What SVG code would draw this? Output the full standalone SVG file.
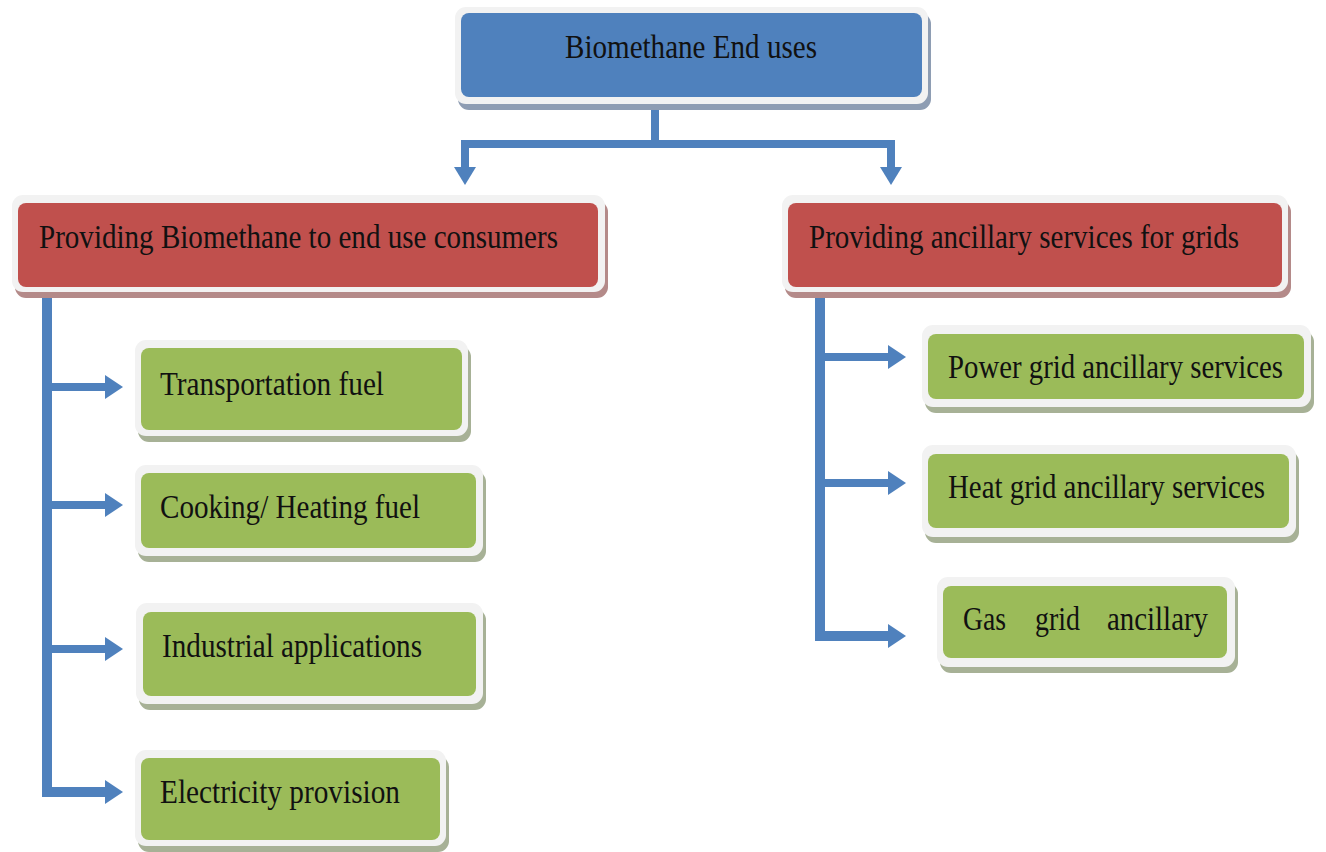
<svg xmlns="http://www.w3.org/2000/svg" width="1326" height="852" viewBox="0 0 1326 852">
  <defs>
    <style>
      .frame { fill: #F2F2F2; }
      .sh-blue { fill: #8E9DB3; }
      .sh-red { fill: #B48A89; }
      .sh-green { fill: #A7B196; }
      .blue { fill: #4F81BD; }
      .red { fill: #C0504D; }
      .green { fill: #9BBB59; }
      .lbl { font-family: "Liberation Serif", "Times New Roman", serif; font-size: 34px; fill: #111111; }
      .wire { fill: none; stroke: #4F81BD; stroke-width: 8; stroke-linejoin: miter; }
      .trunk { fill: none; stroke: #4F81BD; stroke-width: 10; stroke-linejoin: miter; }
    </style>
    <marker id="headR" markerUnits="userSpaceOnUse" markerWidth="18" markerHeight="24" refX="0" refY="12" orient="auto" overflow="visible">
      <path d="M0,0 L18,12 L0,24 Z" fill="#4F81BD"/>
    </marker>
    <marker id="headS" markerUnits="userSpaceOnUse" markerWidth="18" markerHeight="22" refX="0" refY="11" orient="auto" overflow="visible">
      <path d="M0,0 L18,11 L0,22 Z" fill="#4F81BD"/>
    </marker>
  </defs>

  <rect width="1326" height="852" fill="#FFFFFF"/>

  <!-- connectors -->
  <g id="connectors">
    <path class="wire" d="M655,104 V144"/>
    <path class="wire" d="M461,144 H895"/>
    <path class="wire" d="M465,141 V167" marker-end="url(#headS)"/>
    <path class="wire" d="M891,141 V167" marker-end="url(#headS)"/>

    <path class="trunk" d="M47,298 V792 H105" marker-end="url(#headR)"/>
    <path class="wire" d="M47,387 H105" marker-end="url(#headR)"/>
    <path class="wire" d="M47,505 H105" marker-end="url(#headR)"/>
    <path class="wire" d="M47,649 H105" marker-end="url(#headR)"/>

    <path class="trunk" d="M820,298 V636 H888" marker-end="url(#headR)"/>
    <path class="wire" d="M820,357 H888" marker-end="url(#headR)"/>
    <path class="wire" d="M820,483 H888" marker-end="url(#headR)"/>
  </g>

  <!-- root -->
  <g id="node-root">
    <rect class="sh-blue" x="458" y="13" width="473" height="97" rx="11"/>
    <rect class="frame" x="455" y="7" width="473" height="97" rx="11"/>
    <rect class="blue" x="461" y="13" width="461" height="84" rx="8"/>
    <text class="lbl" x="565" y="58" textLength="252" lengthAdjust="spacingAndGlyphs">Biomethane End uses</text>
  </g>

  <!-- second level -->
  <g id="node-consumers">
    <rect class="sh-red" x="15" y="201" width="593" height="97" rx="11"/>
    <rect class="frame" x="12" y="195" width="593" height="97" rx="11"/>
    <rect class="red" x="18" y="203" width="580" height="84" rx="8"/>
    <text class="lbl" x="39" y="248" textLength="519" lengthAdjust="spacingAndGlyphs">Providing Biomethane to end use consumers</text>
  </g>

  <g id="node-grids">
    <rect class="sh-red" x="785" y="201" width="506" height="97" rx="11"/>
    <rect class="frame" x="782" y="195" width="506" height="97" rx="11"/>
    <rect class="red" x="788" y="203" width="494" height="84" rx="8"/>
    <text class="lbl" x="809" y="248" textLength="430" lengthAdjust="spacingAndGlyphs">Providing ancillary services for grids</text>
  </g>

  <!-- end-use consumers -->
  <g id="node-transport">
    <rect class="sh-green" x="138" y="346" width="333" height="96" rx="11"/>
    <rect class="frame" x="135" y="340" width="333" height="96" rx="11"/>
    <rect class="green" x="141" y="348" width="321" height="82" rx="8"/>
    <text class="lbl" x="160" y="395" textLength="224" lengthAdjust="spacingAndGlyphs">Transportation fuel</text>
  </g>

  <g id="node-cooking">
    <rect class="sh-green" x="138" y="471" width="348" height="91" rx="11"/>
    <rect class="frame" x="135" y="465" width="348" height="91" rx="11"/>
    <rect class="green" x="141" y="473" width="335" height="75" rx="8"/>
    <text class="lbl" x="160" y="518" textLength="260" lengthAdjust="spacingAndGlyphs">Cooking/ Heating fuel</text>
  </g>

  <g id="node-industrial">
    <rect class="sh-green" x="139" y="609" width="347" height="101" rx="11"/>
    <rect class="frame" x="136" y="603" width="347" height="101" rx="11"/>
    <rect class="green" x="143" y="612" width="333" height="84" rx="8"/>
    <text class="lbl" x="162" y="657" textLength="260" lengthAdjust="spacingAndGlyphs">Industrial applications</text>
  </g>

  <g id="node-electricity">
    <rect class="sh-green" x="138" y="756" width="311" height="96" rx="11"/>
    <rect class="frame" x="135" y="750" width="311" height="96" rx="11"/>
    <rect class="green" x="141" y="758" width="299" height="82" rx="8"/>
    <text class="lbl" x="160" y="803" textLength="240" lengthAdjust="spacingAndGlyphs">Electricity provision</text>
  </g>

  <!-- grid services -->
  <g id="node-power">
    <rect class="sh-green" x="925" y="331" width="389" height="82" rx="11"/>
    <rect class="frame" x="922" y="325" width="389" height="82" rx="11"/>
    <rect class="green" x="928" y="334" width="376" height="65" rx="8"/>
    <text class="lbl" x="948" y="378" textLength="335" lengthAdjust="spacingAndGlyphs">Power grid ancillary services</text>
  </g>

  <g id="node-heat">
    <rect class="sh-green" x="925" y="451" width="374" height="92" rx="11"/>
    <rect class="frame" x="922" y="445" width="374" height="92" rx="11"/>
    <rect class="green" x="928" y="454" width="361" height="74" rx="8"/>
    <text class="lbl" x="948" y="498" textLength="317" lengthAdjust="spacingAndGlyphs">Heat grid ancillary services</text>
  </g>

  <g id="node-gas">
    <rect class="sh-green" x="940" y="583" width="298" height="90" rx="11"/>
    <rect class="frame" x="937" y="577" width="298" height="90" rx="11"/>
    <rect class="green" x="943" y="586" width="284" height="72" rx="8"/>
    <text class="lbl" x="963" y="630" textLength="43" lengthAdjust="spacingAndGlyphs">Gas</text>
    <text class="lbl" x="1035" y="630" textLength="45" lengthAdjust="spacingAndGlyphs">grid</text>
    <text class="lbl" x="1107" y="630" textLength="101" lengthAdjust="spacingAndGlyphs">ancillary</text>
  </g>
</svg>
